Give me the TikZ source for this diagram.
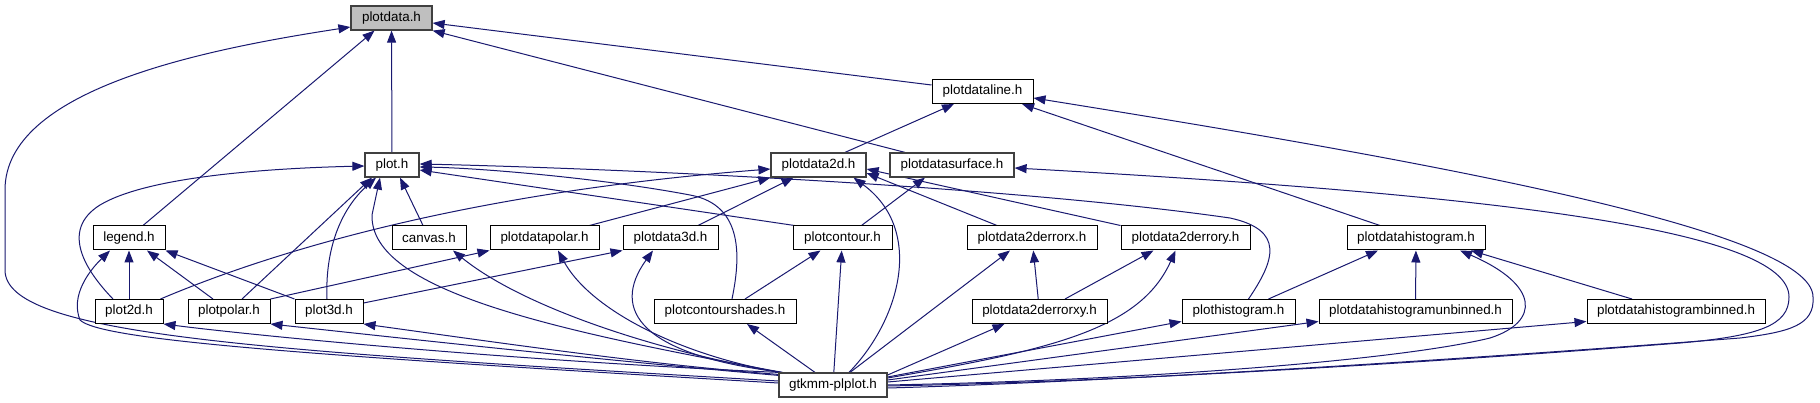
\documentclass[tikz,border=0pt]{standalone}
\usepackage{fontspec}
\setmainfont{Liberation Sans}
\usetikzlibrary{arrows.meta}
\pgfdeclarelayer{bg}
\pgfsetlayers{bg,main}
\definecolor{edgec}{HTML}{191970}
\definecolor{gfill}{HTML}{BFBFBF}
\definecolor{gborder}{HTML}{404040}
\begin{document}
\begin{tikzpicture}[x=1pt,y=-1pt,
  box/.style={draw=black,line width=1pt,fill=white,minimum height=24pt,inner sep=0pt,font=\fontsize{13.4}{16}\selectfont},
  gbox/.style={box,draw=gborder,line width=1.2pt},
  edge/.style={draw=edgec,line width=1pt,-{Triangle[length=12pt,width=9pt]}}]
\useasboundingbox (0,0) rectangle (1820,403);
% row 1
\node[gbox,fill=gfill,minimum width=81pt] (plotdata) at (391.5,18) {plotdata.h};
% row 2
\node[box,minimum width=101pt] (plotdataline) at (982.5,91.5) {plotdataline.h};
% row 3
\node[gbox,minimum width=54pt] (plot) at (392,165) {plot.h};
\node[gbox,minimum width=95pt] (plotdata2d) at (818.5,165) {plotdata2d.h};
\node[gbox,minimum width=124pt] (plotdatasurface) at (952,165) {plotdatasurface.h};
% row 4
\node[box,minimum width=72pt] (legend) at (129,238) {legend.h};
\node[box,minimum width=74pt] (canvas) at (429,238) {canvas.h};
\node[box,minimum width=109pt] (plotdatapolar) at (544.5,238) {plotdatapolar.h};
\node[box,minimum width=95pt] (plotdata3d) at (670.5,238) {plotdata3d.h};
\node[box,minimum width=99pt] (plotcontour) at (842.5,238) {plotcontour.h};
\node[box,minimum width=130pt] (plotdata2derrorx) at (1032,238) {plotdata2derrorx.h};
\node[box,minimum width=129pt] (plotdata2derrory) at (1185.5,238) {plotdata2derrory.h};
\node[box,minimum width=138pt] (plotdatahistogram) at (1416,238) {plotdatahistogram.h};
% row 5
\node[box,minimum width=68pt] (plot2d) at (129,311.5) {plot2d.h};
\node[box,minimum width=82pt] (plotpolar) at (229,311.5) {plotpolar.h};
\node[box,minimum width=68pt] (plot3d) at (329,311.5) {plot3d.h};
\node[box,minimum width=142pt] (plotcontourshades) at (725,311.5) {plotcontourshades.h};
\node[box,minimum width=135pt] (plotdata2derrorxy) at (1039.5,311.5) {plotdata2derrorxy.h};
\node[box,minimum width=113pt] (plothistogram) at (1238.5,311.5) {plothistogram.h};
\node[box,minimum width=193pt] (unbinned) at (1415.5,311.5) {plotdatahistogramunbinned.h};
\node[box,minimum width=178pt] (binned) at (1676,311.5) {plotdatahistogrambinned.h};
% row 6
\node[gbox,minimum width=108pt] (gtk) at (833,385) {gtkmm-plplot.h};

\begin{pgfonlayer}{bg}
\fill[white] (0,0) rectangle (1820,403);
% plotdata.h
\draw[edge] (plot) -- (plotdata);
\draw[edge] ([xshift=14pt]legend.north) -- ([xshift=-17pt]plotdata.south);
\draw[edge] ([yshift=4pt]gtk.west) .. controls (250,350) and (5,335) .. (5,270) -- (5,190) .. controls (5,90) and (200,50) .. ([yshift=-9pt]plotdata.west);
\draw[edge] ([yshift=6.5pt]plotdataline.west) -- ([yshift=-5pt]plotdata.east);
\draw[edge] ([xshift=-47pt]plotdatasurface.north) -- (plotdata.south east);
% plotdataline.h
\draw[edge] ([xshift=26.5pt]plotdata2d.north) -- ([xshift=-28.5pt]plotdataline.south);
\draw[edge] ([xshift=-36pt]plotdatahistogram.north) -- ([xshift=39.5pt]plotdataline.south);
\draw[edge] ([yshift=-3pt]gtk.east) .. controls (1000,385) and (1300,372) .. (1740,338) .. controls (1790,332) and (1815,325) .. (1813,297) .. controls (1813,230) and (1420,160) .. ([yshift=-6.5pt]plotdataline.east);
% plotdatasurface.h
\draw[edge] ([yshift=-1pt]gtk.east) .. controls (1100,382) and (1400,365) .. (1680,343) .. controls (1760,336) and (1789,325) .. (1789,297) .. controls (1789,230) and (1500,195) .. ([yshift=-3pt]plotdatasurface.east);
\draw[edge] ([xshift=19pt]plotcontour.north) -- ([xshift=-27pt]plotdatasurface.south);
% plot.h
\draw[edge] ([xshift=-16pt]plot2d.north) .. controls (85,270) and (60,230) .. (100,205) .. controls (150,175) and (280,168) .. ([yshift=-1pt]plot.west);
\draw[edge] ([xshift=13pt]plotpolar.north) -- ([xshift=-20pt]plot.south);
\draw[edge] ([xshift=-2pt]plot3d.north) .. controls (325,250) and (340,210) .. ([xshift=-16pt]plot.south);
\draw[edge] ([xshift=-6pt]canvas.north) -- ([xshift=8pt]plot.south);
\draw[edge] ([xshift=4pt]gtk.north west) .. controls (550,330) and (370,290) .. (372,215) -- ([xshift=-12pt]plot.south);
\draw[edge] ([xshift=2pt]plotcontour.north west) -- ([yshift=-5pt]plot.east);
\draw[edge] ([xshift=7pt]plotcontourshades.north) .. controls (740,260) and (745,205) .. (690,195) .. controls (600,178) and (480,168) .. ([yshift=-2pt]plot.east);
\draw[edge] ([xshift=10pt]plothistogram.north) .. controls (1275,260) and (1285,230) .. (1230,218) .. controls (1000,185) and (600,168) .. ([yshift=1pt]plot.east);
% plotdata2d.h
\draw[edge] ([xshift=-3pt]plot2d.north east) .. controls (300,240) and (500,190) .. ([yshift=-4pt]plotdata2d.west);
\draw[edge] ([xshift=45pt]plotdatapolar.north) -- (plotdata2d.south west);
\draw[edge] ([xshift=27.5pt]plotdata3d.north) -- ([xshift=-25pt]plotdata2d.south);
\draw[edge] ([xshift=-35pt]plotdata2derrorx.north) -- ([yshift=-8pt]plotdata2d.east);
\draw[edge] (plotdata2derrory.north west) -- ([yshift=-4pt]plotdata2d.east);
\draw[edge] ([xshift=16pt]gtk.north) .. controls (900,320) and (925,230) .. ([xshift=35pt]plotdata2d.south);
% legend.h
\draw[edge] (plot2d) -- (legend);
\draw[edge] ([xshift=-16pt]plotpolar.north) -- ([xshift=18pt]legend.south);
\draw[edge] (plot3d.north west) -- (legend.south east);
\draw[edge] ([yshift=2pt]gtk.west) .. controls (300,355) and (100,340) .. (80,320) .. controls (70,295) and (90,270) .. ([xshift=-19pt]legend.south);
% canvas.h
\draw[edge] ([xshift=2pt]gtk.north west) .. controls (650,350) and (520,305) .. ([xshift=24pt]canvas.south);
% plotdatapolar.h
\draw[edge] (plotpolar.north east) -- (plotdatapolar.south west);
\draw[edge] ([xshift=2pt]gtk.north west) .. controls (680,355) and (590,310) .. ([xshift=13.5pt]plotdatapolar.south);
% plotdata3d.h
\draw[edge] ([yshift=8.5pt]plot3d.east) -- (plotdata3d.south west);
\draw[edge] ([xshift=4pt]gtk.north west) .. controls (640,355) and (610,310) .. ([xshift=-17.5pt]plotdata3d.south);
% plotcontour.h
\draw[edge] ([xshift=20pt]plotcontourshades.north) -- ([xshift=-22pt]plotcontour.south);
\draw[edge] (gtk) -- (plotcontour);
% plotdata2derrorx.h
\draw[edge] (plotdata2derrorxy) -- (plotdata2derrorx);
\draw[edge] ([xshift=17pt]gtk.north) -- ([xshift=-22pt]plotdata2derrorx.south);
% plotdata2derrory.h
\draw[edge] ([xshift=25.5pt]plotdata2derrorxy.north) -- ([xshift=-32pt]plotdata2derrory.south);
\draw[edge] ([yshift=7pt]gtk.east) .. controls (1050,350) and (1140,330) .. ([xshift=-10pt]plotdata2derrory.south);
% plotdatahistogram.h
\draw[edge] ([xshift=30pt]plothistogram.north) -- ([xshift=-38pt]plotdatahistogram.south);
\draw[edge] (unbinned) -- (plotdatahistogram);
\draw[edge] ([xshift=-44pt]binned.north) -- ([xshift=55pt]plotdatahistogram.south);
\draw[edge] (gtk.east) .. controls (1150,380) and (1400,360) .. (1490,338) .. controls (1540,322) and (1540,285) .. ([xshift=44pt]plotdatahistogram.south);
% gtkmm-plplot.h to row 5
\draw[edge] (gtk.north west) .. controls (500,360) and (250,335) .. (plot2d.south east);
\draw[edge] ([yshift=-3pt]gtk.north west) .. controls (600,360) and (400,338) .. (plotpolar.south east);
\draw[edge] ([yshift=-2pt]gtk.north west) .. controls (650,365) and (480,340) .. (plot3d.south east);
\draw[edge] ([xshift=-18pt]gtk.north) -- ([xshift=22pt]plotcontourshades.south);
\draw[edge] ([yshift=10pt]gtk.east) -- ([xshift=-35pt]plotdata2derrorxy.south);
\draw[edge] ([yshift=8pt]gtk.east) -- ([yshift=-10pt]plothistogram.west);
\draw[edge] ([yshift=5pt]gtk.east) -- ([yshift=-10pt]unbinned.west);
\draw[edge] ([yshift=3pt]gtk.east) -- ([yshift=-10pt]binned.west);
\end{pgfonlayer}
\end{tikzpicture}
\end{document}
